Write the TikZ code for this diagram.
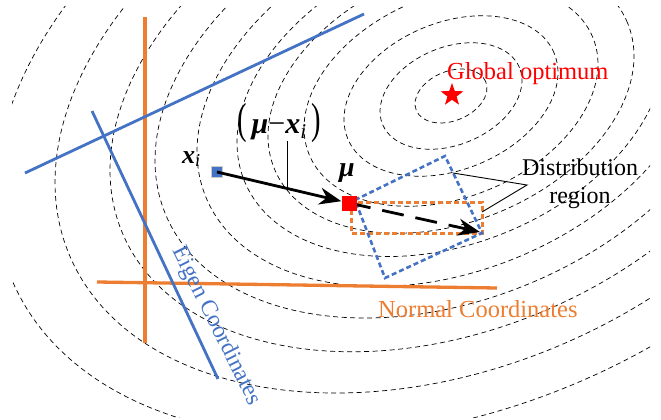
\documentclass[tikz,border=0pt]{standalone}
\usepackage{fontspec}
\setmainfont{Liberation Serif}
\newfontfamily\tnr{Liberation Serif}
\usetikzlibrary{shapes.geometric,arrows.meta}
\definecolor{eblue}{HTML}{4472C4}
\definecolor{norange}{HTML}{ED7D31}
\newcommand{\tallparen}[1]{\scalebox{0.95}[1.45]{#1}}
\begin{document}
\begin{tikzpicture}[x=1pt,y=-1pt,
  contour/.style={black, line width=0.7pt, dash pattern=on 5pt off 3.5pt},
  axisline/.style={line width=2.8pt},
  regionbox/.style={line width=2.6pt, dash pattern=on 5pt off 3pt},
  bigarrow/.style={line width=2.8pt, -{Stealth[length=22pt,width=17pt]}},
  leader/.style={black, line width=0.9pt},
  lbl/.style={inner sep=0pt, font=\tnr\fontsize{24}{28}\selectfont}]
\useasboundingbox (0,0) rectangle (661,420);
% contours
\begin{scope}
\clip (12,7) rectangle (650,417);
\foreach \w in {36,71,107,147,183,214,254,296,341,396,456}{
  \draw[contour, shift={(451,96)}, rotate=22.5] (0,0) ellipse [x radius={1.044*\w*1pt}, y radius={0.687*\w*1pt}];
}
\end{scope}
% coordinate axes
\coordinate (ov1) at (145,17);  \coordinate (ov2) at (145,343);
\coordinate (oh1) at (97,282);  \coordinate (oh2) at (497,288);
\coordinate (bl1) at (25,173);  \coordinate (bl2) at (364,14);
\coordinate (bs1) at (92,111);  \coordinate (bs2) at (218,379);
\draw[axisline, norange, line width=3.3pt] (ov1) -- (ov2);
\draw[axisline, norange, line width=3.3pt] (oh1) -- (oh2);
\draw[axisline, eblue] (bl1) -- (bl2);
\draw[axisline, eblue] (bs1) -- (bs2);
% labels of axes
\node[lbl, anchor=base west, text=norange, font=\tnr\fontsize{24.5}{28}\selectfont] (normal) at (378,317) {Normal Coordinates};
\node[lbl, rotate=-63.5, text=eblue, font=\tnr\fontsize{23.5}{28}\selectfont] (eigen) at (216,326) {Eigen Coordinates};
% optimum
\node[star, star points=5, star point ratio=2.5, fill=red, inner sep=0pt, minimum size=24pt] (opt) at (452,95) {};
\node[lbl, anchor=base west, text=red, font=\tnr\fontsize{24.5}{28}\selectfont] (glob) at (447,80) {Global optimum};
% distribution regions
\coordinate (muc) at (349,203);
\coordinate (o1) at (351,202); \coordinate (o2) at (482,233);
\draw[regionbox, norange, line width=3pt] (o1) rectangle (o2);
\coordinate (b1) at (355,200); \coordinate (b2) at (445,156);
\coordinate (b3) at (482,233); \coordinate (b4) at (385,278);
\draw[regionbox, eblue] (b1) -- (b2) -- (b3) -- (b4) -- cycle;
\coordinate (tip) at (480,232);
\draw[bigarrow, dash pattern=on 22pt off 12pt] (muc) -- (tip);
% markers
\node[draw=gray!40, line width=0.8pt, fill=eblue, minimum size=11pt, inner sep=0pt] (xi) at (217,172) {};
\node[fill=red, minimum size=15pt, inner sep=0pt] (mu) at (muc) {};
\draw[bigarrow] (xi.center) -- (mu);
% math labels
\node[lbl, anchor=base west, font=\tnr\fontsize{26}{30}\selectfont] (xil) at (182,163) {\textbf{\textit{x}}\textsubscript{\textit{i}}};
\node[lbl, anchor=base west, font=\tnr\fontsize{28}{30}\selectfont] (mul) at (339,176) {\textbf{\textit{μ}}};
\node[lbl, anchor=base west, font=\tnr\fontsize{30}{32}\selectfont] (diff) at (237,133) {\tallparen{(}\,\textbf{\textit{μ}}−\textbf{\textit{x}}\textsubscript{\textit{i}}\,\tallparen{)}};
\coordinate (lq1) at (287,141); \coordinate (lq2) at (287,188);
\draw[leader] (lq1) -- (lq2);
% distribution label
\node[lbl, anchor=base] (dist) at (580,175) {Distribution};
\node[lbl, anchor=base] (reg) at (580,203) {region};
\coordinate (d1) at (453,173); \coordinate (dj) at (527,185); \coordinate (d2) at (482,212);
\draw[leader] (d1) -- (dj) -- (d2);
\end{tikzpicture}
\end{document}
